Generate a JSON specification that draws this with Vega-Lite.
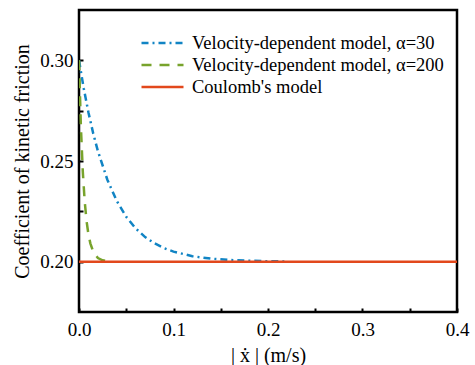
{
  "$schema": "https://vega.github.io/schema/vega-lite/v6.json",
  "width": 378,
  "height": 302,
  "autosize": "none",
  "padding": {"left": 79, "top": 10, "right": 18, "bottom": 53},
  "config": {
    "view": {"stroke": "black", "strokeWidth": 2.5}
  },
  "data": {
    "values": [
      {"series": "Velocity-dependent model, α=30", "v": 0, "mu": 0.3},
      {"series": "Velocity-dependent model, α=30", "v": 0.005, "mu": 0.2861},
      {"series": "Velocity-dependent model, α=30", "v": 0.01, "mu": 0.2741},
      {"series": "Velocity-dependent model, α=30", "v": 0.015, "mu": 0.2638},
      {"series": "Velocity-dependent model, α=30", "v": 0.02, "mu": 0.2549},
      {"series": "Velocity-dependent model, α=30", "v": 0.03, "mu": 0.2407},
      {"series": "Velocity-dependent model, α=30", "v": 0.04, "mu": 0.2301},
      {"series": "Velocity-dependent model, α=30", "v": 0.05, "mu": 0.2223},
      {"series": "Velocity-dependent model, α=30", "v": 0.06, "mu": 0.2165},
      {"series": "Velocity-dependent model, α=30", "v": 0.07, "mu": 0.2122},
      {"series": "Velocity-dependent model, α=30", "v": 0.08, "mu": 0.2091},
      {"series": "Velocity-dependent model, α=30", "v": 0.09, "mu": 0.2067},
      {"series": "Velocity-dependent model, α=30", "v": 0.1, "mu": 0.205},
      {"series": "Velocity-dependent model, α=30", "v": 0.12, "mu": 0.2027},
      {"series": "Velocity-dependent model, α=30", "v": 0.14, "mu": 0.2015},
      {"series": "Velocity-dependent model, α=30", "v": 0.16, "mu": 0.2008},
      {"series": "Velocity-dependent model, α=30", "v": 0.18, "mu": 0.2005},
      {"series": "Velocity-dependent model, α=30", "v": 0.2, "mu": 0.2002},
      {"series": "Velocity-dependent model, α=30", "v": 0.22, "mu": 0.2001},
      {"series": "Velocity-dependent model, α=200", "v": 0, "mu": 0.3},
      {"series": "Velocity-dependent model, α=200", "v": 0.002, "mu": 0.267},
      {"series": "Velocity-dependent model, α=200", "v": 0.004, "mu": 0.2449},
      {"series": "Velocity-dependent model, α=200", "v": 0.006, "mu": 0.2301},
      {"series": "Velocity-dependent model, α=200", "v": 0.008, "mu": 0.2202},
      {"series": "Velocity-dependent model, α=200", "v": 0.01, "mu": 0.2135},
      {"series": "Velocity-dependent model, α=200", "v": 0.012, "mu": 0.2091},
      {"series": "Velocity-dependent model, α=200", "v": 0.015, "mu": 0.205},
      {"series": "Velocity-dependent model, α=200", "v": 0.02, "mu": 0.2018},
      {"series": "Velocity-dependent model, α=200", "v": 0.025, "mu": 0.2007},
      {"series": "Velocity-dependent model, α=200", "v": 0.03, "mu": 0.2002},
      {"series": "Coulomb's model", "v": 0, "mu": 0.2},
      {"series": "Coulomb's model", "v": 0.4, "mu": 0.2}
    ]
  },
  "mark": {"type": "line", "strokeWidth": 2.5, "clip": true},
  "encoding": {
    "x": {
      "field": "v", "type": "quantitative",
      "scale": {"domain": [0, 0.4], "nice": false, "zero": false},
      "axis": {
        "title": "| ẋ | (m/s)",
        "values": [0, 0.05, 0.1, 0.15, 0.2, 0.25, 0.3, 0.35, 0.4],
        "labelExpr": "round(datum.value*100) % 10 == 0 ? format(datum.value, '.1f') : ''",
        "domain": false, "grid": false,
        "tickColor": "black", "tickWidth": 2, "tickSize": -4,
        "labelFont": "Times New Roman", "labelFontSize": 19, "labelColor": "black",
        "labelPadding": 12, "labelFlush": false,
        "titleFont": "Times New Roman", "titleFontSize": 20, "titleFontWeight": "normal", "titleColor": "black",
        "titlePadding": 6
      }
    },
    "y": {
      "field": "mu", "type": "quantitative",
      "scale": {"domain": [0.175, 0.325], "nice": false, "zero": false},
      "axis": {
        "title": "Coefficient of kinetic friction",
        "values": [0.2, 0.225, 0.25, 0.275, 0.3],
        "labelExpr": "round(datum.value*1000) % 50 == 0 ? format(datum.value, '.2f') : ''",
        "domain": false, "grid": false,
        "tickColor": "black", "tickWidth": 2, "tickSize": -4,
        "labelFont": "Times New Roman", "labelFontSize": 19, "labelColor": "black",
        "labelPadding": 10,
        "titleFont": "Times New Roman", "titleFontSize": 20, "titleFontWeight": "normal", "titleColor": "black",
        "titlePadding": 7
      }
    },
    "color": {
      "field": "series", "type": "nominal",
      "scale": {
        "domain": ["Velocity-dependent model, α=30", "Velocity-dependent model, α=200", "Coulomb's model"],
        "range": ["#1184c4", "#78a32c", "#e2481c"]
      },
      "legend": {
        "title": null,
        "orient": "none", "legendX": 71.5, "legendY": 21,
        "symbolType": "M-2,0H2", "symbolSize": 441, "symbolStrokeWidth": 2.5, "symbolFillColor": "transparent",
        "labelFont": "Times New Roman", "labelFontSize": 18.5, "labelColor": "black",
        "labelOffset": 17.5, "rowPadding": 0, "labelLimit": 400
      }
    },
    "strokeDash": {
      "field": "series", "type": "nominal",
      "scale": {
        "domain": ["Velocity-dependent model, α=30", "Velocity-dependent model, α=200", "Coulomb's model"],
        "range": [[7, 4, 2, 4], [10, 8], [1, 0]]
      },
      "legend": null
    }
  }
}
